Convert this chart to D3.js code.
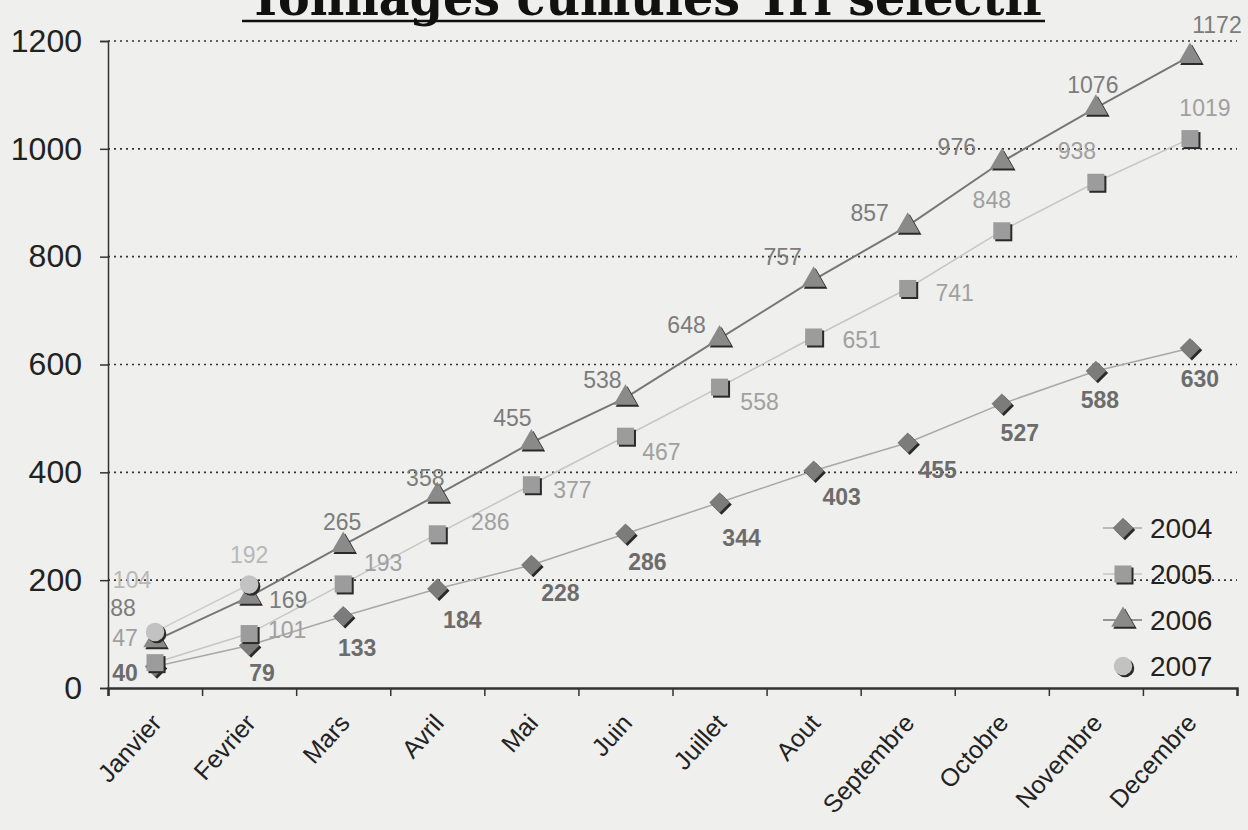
<!DOCTYPE html>
<html>
<head>
<meta charset="utf-8">
<script src="https://cdn.jsdelivr.net/npm/d3@7"></script>
<style>
  body { margin: 0; background: #efefed; }
  svg { display: block; }
  text { font-family: "Liberation Sans", Arial, sans-serif; }
</style>
</head>
<body>
<svg id="chart"></svg>
<script>
var width = 1248;
var height = 830;

// data
var months = ["Janvier", "Fevrier", "Mars", "Avril", "Mai", "Juin",
              "Juillet", "Aout", "Septembre", "Octobre", "Novembre", "Decembre"];
var years = ["2004", "2005", "2006", "2007"];
var tonnes2004 = [40, 79, 133, 184, 228, 286, 344, 403, 455, 527, 588, 630];
var tonnes2005 = [47, 101, 193, 286, 377, 467, 558, 651, 741, 848, 938, 1019];
var tonnes2006 = [88, 169, 265, 358, 455, 538, 648, 757, 857, 976, 1076, 1172];
var tonnes2007 = [104, 192];
var yTicks = [0, 200, 400, 600, 800, 1000, 1200];

// label offsets (px) – the scan has hand-placed labels
var off2004 = [[-30,6],[13,27],[14,31],[25,31],[29,28],[22,28],[22,35],[28,26],[30,27],[18,29],[4,29],[10,30]];
var off2005 = [[-30,-25],[38,-4],[40,-21],[53,-12],[41,5],[36,16],[40,15],[48,3],[47,4],[-10,-31],[-19,-32],[15,-31]];
var off2006 = [[-32,-33],[39,3],[-1,-23],[-12,-17],[-19,-25],[-23,-18],[-33,-14],[-31,-23],[-38,-13],[-45,-15],[-3,-23],[27,-31]];
var off2007 = [[-23,-52],[0,-30]];

var series = [
  { name: years[0], values: tonnes2004, off: off2004, shape: "diamond",  fill: "#7c7c7c", line: "#a8a8a8", lw: 1.5, label: "#6c6c6c", weight: "bold" },
  { name: years[1], values: tonnes2005, off: off2005, shape: "square",   fill: "#9c9c9c", line: "#c6c6c6", lw: 1.5, label: "#a0a0a0", weight: "normal" },
  { name: years[2], values: tonnes2006, off: off2006, shape: "triangle", fill: "#8a8a8a", line: "#777777", lw: 2,   label: "#7c7c7c", weight: "normal" },
  { name: years[3], values: tonnes2007, off: off2007, shape: "circle",   fill: "#c2c2c2", line: "#cdcdcd", lw: 1.5, label: "#b8b8b8", weight: "normal" }
];

var plotLeft = 108, plotRight = 1237, plotTop = 41, plotBottom = 688;

var svg = d3.select("#chart").attr("width", width).attr("height", height);

svg.append("rect").attr("width", width).attr("height", height).attr("fill", "#efefed");

var x = d3.scaleBand().domain(months).range([plotLeft, plotRight]);
var xEdge = d3.scaleLinear().domain([0, months.length]).range([plotLeft, plotRight]);
var y = d3.scaleLinear().domain([0, 1200]).range([plotBottom, plotTop]);

// title (cut off at the top of the scan)
svg.append("text")
  .attr("x", 248).attr("y", 15)
  .attr("textLength", 795).attr("lengthAdjust", "spacingAndGlyphs")
  .style("font-family", "'DejaVu Serif', serif")
  .style("font-weight", "bold")
  .style("font-size", "50px")
  .attr("fill", "#111")
  .text("Tonnages cumulés Tri sélectif");
svg.append("line")
  .attr("x1", 242).attr("x2", 1045).attr("y1", 21).attr("y2", 21)
  .attr("stroke", "#111").attr("stroke-width", 2.5);

// gridlines
svg.append("g").selectAll("line")
    .data(yTicks.filter(function(d) { return d > 0; }))
  .enter().append("line")
    .attr("x1", plotLeft).attr("x2", plotRight)
    .attr("y1", function(d) { return y(d); })
    .attr("y2", function(d) { return y(d); })
    .attr("stroke", "#333")
    .attr("stroke-width", 1.6)
    .attr("stroke-dasharray", "2,4");

// y axis
var yAxis = svg.append("g")
  .attr("transform", "translate(" + plotLeft + ",0)")
  .call(d3.axisLeft(y).tickValues(yTicks).tickFormat(d3.format("d")).tickSize(8).tickPadding(18));
yAxis.selectAll("text").style("font-size", "32px").attr("fill", "#222");
yAxis.selectAll("line, path").attr("stroke", "#333").attr("stroke-width", 1.5);

// x axis: ticks between categories
var xTicks = svg.append("g")
  .attr("transform", "translate(0," + plotBottom + ")")
  .call(d3.axisBottom(xEdge).tickValues(d3.range(months.length + 1)).tickSize(8).tickFormat(""));
xTicks.selectAll("line, path").attr("stroke", "#333").attr("stroke-width", 1.5);
xTicks.select("path").attr("stroke-width", 2.5);

var xAxis = svg.append("g")
  .attr("transform", "translate(0," + plotBottom + ")")
  .call(d3.axisBottom(x).tickSize(0).tickPadding(0));
xAxis.select("path").remove();
xAxis.selectAll("text")
  .style("font-size", "25px")
  .attr("fill", "#222")
  .attr("text-anchor", "end")
  .attr("y", 0)
  .attr("dy", 0)
  .attr("transform", "translate(8,36) rotate(-48)");

function shapePath(shape) {
  if (shape === "square") return d3.symbol().type(d3.symbolSquare).size(290)();
  if (shape === "diamond") return d3.symbol().type(d3.symbolSquare).size(210)();
  if (shape === "triangle") return d3.symbol().type(d3.symbolTriangle).size(240)();
  return d3.symbol().type(d3.symbolCircle).size(270)();
}
function shapeRot(shape) { return shape === "diamond" ? " rotate(45)" : ""; }

function drawMarker(g, s, cx, cy) {
  g.append("path")
    .attr("d", shapePath(s.shape))
    .attr("transform", "translate(" + (cx + 2) + "," + (cy + 2) + ")" + shapeRot(s.shape))
    .attr("fill", "#2a2a2a");
  g.append("path")
    .attr("d", shapePath(s.shape))
    .attr("transform", "translate(" + cx + "," + cy + ")" + shapeRot(s.shape))
    .attr("fill", s.fill);
}

var line = d3.line()
  .x(function(d, i) { return x(months[i]) + x.bandwidth() / 2; })
  .y(function(d) { return y(d); });

// lines first, then markers, then labels
series.forEach(function(s) {
  svg.append("path")
    .datum(s.values)
    .attr("d", line)
    .attr("fill", "none")
    .attr("stroke", s.line)
    .attr("stroke-width", s.lw);
});

series.forEach(function(s) {
  var g = svg.append("g");
  s.values.forEach(function(v, i) {
    drawMarker(g, s, x(months[i]) + x.bandwidth() / 2, y(v));
  });
});

series.forEach(function(s) {
  svg.append("g").selectAll("text")
      .data(s.values)
    .enter().append("text")
      .attr("x", function(d, i) { return x(months[i]) + x.bandwidth() / 2 + s.off[i][0]; })
      .attr("y", function(d, i) { return y(d) + s.off[i][1]; })
      .attr("dy", "0.36em")
      .attr("text-anchor", "middle")
      .style("font-size", "23px")
      .style("font-weight", s.weight)
      .attr("fill", s.label)
      .text(function(d) { return d; });
});

// legend
var legend = svg.append("g");
series.forEach(function(s, i) {
  var ly = 528 + i * 46;
  var row = legend.append("g");
  if (s.shape !== "circle") {
    row.append("line")
      .attr("x1", 1103).attr("x2", 1142).attr("y1", ly).attr("y2", ly)
      .attr("stroke", s.line).attr("stroke-width", 1.5);
  }
  drawMarker(row, s, 1123, ly);
  row.append("text")
    .attr("x", 1150).attr("y", ly).attr("dy", "0.36em")
    .style("font-size", "28px")
    .attr("fill", "#222")
    .text(s.name);
});
</script>
</body>
</html>
